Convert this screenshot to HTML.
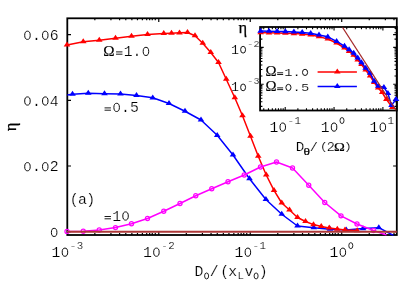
<!DOCTYPE html>
<html><head><meta charset="utf-8"><title>plot</title>
<style>html,body{margin:0;padding:0;background:#fff;overflow:hidden}body{width:407px;height:288px;position:relative;font-family:"Liberation Mono",monospace}</style></head>
<body>
<svg width="407" height="288" viewBox="0 0 407 288" style="position:absolute;left:0;top:0;will-change:transform">
<rect width="407" height="288" fill="#fff"/>
<defs><clipPath id="cm"><rect x="67.3" y="18.3" width="329.5" height="217.5"/></clipPath><clipPath id="ci"><rect x="260.1" y="27.0" width="136.7" height="83.5"/></clipPath></defs>
<path d="M94.84 235.00v-1.90M94.84 18.30v1.90M110.94 235.00v-1.90M110.94 18.30v1.90M119.59 235.00v-1.90M119.59 18.30v1.90M125.79 235.00v-1.90M125.79 18.30v1.90M131.87 235.00v-1.90M131.87 18.30v1.90M137.47 235.00v-1.90M137.47 18.30v1.90M142.38 235.00v-1.90M142.38 18.30v1.90M146.70 235.00v-1.90M146.70 18.30v1.90M149.66 235.00v-1.90M149.66 18.30v1.90M152.27 235.00v-1.90M152.27 18.30v1.90M155.28 235.00v-1.90M155.28 18.30v1.90M158.77 235.00v-3.70M158.77 18.30v3.70M186.31 235.00v-1.90M186.31 18.30v1.90M202.41 235.00v-1.90M202.41 18.30v1.90M211.06 235.00v-1.90M211.06 18.30v1.90M217.26 235.00v-1.90M217.26 18.30v1.90M223.34 235.00v-1.90M223.34 18.30v1.90M228.94 235.00v-1.90M228.94 18.30v1.90M233.85 235.00v-1.90M233.85 18.30v1.90M238.17 235.00v-1.90M238.17 18.30v1.90M241.13 235.00v-1.90M241.13 18.30v1.90M243.74 235.00v-1.90M243.74 18.30v1.90M246.75 235.00v-1.90M246.75 18.30v1.90M250.24 235.00v-3.70M250.24 18.30v3.70M277.78 235.00v-1.90M277.78 18.30v1.90M293.88 235.00v-1.90M293.88 18.30v1.90M302.53 235.00v-1.90M302.53 18.30v1.90M308.73 235.00v-1.90M308.73 18.30v1.90M314.81 235.00v-1.90M314.81 18.30v1.90M320.41 235.00v-1.90M320.41 18.30v1.90M325.32 235.00v-1.90M325.32 18.30v1.90M329.64 235.00v-1.90M329.64 18.30v1.90M332.60 235.00v-1.90M332.60 18.30v1.90M335.21 235.00v-1.90M335.21 18.30v1.90M338.22 235.00v-1.90M338.22 18.30v1.90M341.71 235.00v-3.70M341.71 18.30v3.70M369.25 235.00v-1.90M369.25 18.30v1.90M385.35 235.00v-1.90M385.35 18.30v1.90M394.00 235.00v-1.90M394.00 18.30v1.90M67.30 231.70h3.70M396.80 231.70h-3.70M67.30 166.00h3.70M396.80 166.00h-3.70M67.30 100.30h3.70M396.80 100.30h-3.70M67.30 34.60h3.70M396.80 34.60h-3.70" stroke="#000" stroke-width="1.2" fill="none"/>
<rect x="67.3" y="18.3" width="329.5" height="216.7" fill="none" stroke="#000" stroke-width="1.8"/>
<g clip-path="url(#cm)"><polyline fill="none" stroke="#0000ff" stroke-width="1.5" stroke-linejoin="round" points="67.00,95.00 72.50,94.25 88.25,93.25 104.50,93.75 120.50,94.00 136.50,95.50 152.75,97.80 169.00,103.50 185.00,111.25 201.00,120.00 217.20,135.30 233.00,155.00 249.50,178.75 265.90,199.50 281.75,214.25 297.50,226.00 313.75,227.70 330.00,229.25 346.25,230.00 363.00,228.60 378.80,227.70 393.50,235.50"/></g>
<polygon fill="#0000ff" points="72.50,90.85 69.20,95.85 75.80,95.85"/>
<polygon fill="#0000ff" points="88.25,89.85 84.95,94.85 91.55,94.85"/>
<polygon fill="#0000ff" points="104.50,90.35 101.20,95.35 107.80,95.35"/>
<polygon fill="#0000ff" points="120.50,90.60 117.20,95.60 123.80,95.60"/>
<polygon fill="#0000ff" points="136.50,92.10 133.20,97.10 139.80,97.10"/>
<polygon fill="#0000ff" points="152.75,94.40 149.45,99.40 156.05,99.40"/>
<polygon fill="#0000ff" points="169.00,100.10 165.70,105.10 172.30,105.10"/>
<polygon fill="#0000ff" points="185.00,107.85 181.70,112.85 188.30,112.85"/>
<polygon fill="#0000ff" points="201.00,116.60 197.70,121.60 204.30,121.60"/>
<polygon fill="#0000ff" points="217.20,131.90 213.90,136.90 220.50,136.90"/>
<polygon fill="#0000ff" points="233.00,151.60 229.70,156.60 236.30,156.60"/>
<polygon fill="#0000ff" points="249.50,175.35 246.20,180.35 252.80,180.35"/>
<polygon fill="#0000ff" points="265.90,196.10 262.60,201.10 269.20,201.10"/>
<polygon fill="#0000ff" points="281.75,210.85 278.45,215.85 285.05,215.85"/>
<polygon fill="#0000ff" points="297.50,222.60 294.20,227.60 300.80,227.60"/>
<polygon fill="#0000ff" points="313.75,224.30 310.45,229.30 317.05,229.30"/>
<polygon fill="#0000ff" points="330.00,225.85 326.70,230.85 333.30,230.85"/>
<polygon fill="#0000ff" points="346.25,226.60 342.95,231.60 349.55,231.60"/>
<polygon fill="#0000ff" points="363.00,225.20 359.70,230.20 366.30,230.20"/>
<polygon fill="#0000ff" points="378.80,224.30 375.50,229.30 382.10,229.30"/>
<g clip-path="url(#cm)"><polyline fill="none" stroke="#ff0000" stroke-width="1.5" stroke-linejoin="round" points="67.00,45.00 83.25,41.75 99.25,40.25 115.50,38.25 131.50,36.20 147.50,34.50 163.75,33.50 171.50,33.20 179.50,32.80 187.50,32.50 195.00,35.75 202.75,43.25 210.75,52.50 218.50,62.50 226.25,79.20 234.80,97.70 242.50,115.75 250.50,136.25 258.25,156.25 266.25,175.00 274.00,190.30 281.75,203.00 289.50,210.00 297.50,217.50 305.50,221.50 313.50,224.60 321.25,226.40 329.25,227.90 337.30,229.10 345.00,230.00 357.20,230.60"/></g>
<polygon fill="#ff0000" points="67.00,41.60 63.70,46.60 70.30,46.60"/>
<polygon fill="#ff0000" points="83.25,38.35 79.95,43.35 86.55,43.35"/>
<polygon fill="#ff0000" points="99.25,36.85 95.95,41.85 102.55,41.85"/>
<polygon fill="#ff0000" points="115.50,34.85 112.20,39.85 118.80,39.85"/>
<polygon fill="#ff0000" points="131.50,32.80 128.20,37.80 134.80,37.80"/>
<polygon fill="#ff0000" points="147.50,31.10 144.20,36.10 150.80,36.10"/>
<polygon fill="#ff0000" points="163.75,30.10 160.45,35.10 167.05,35.10"/>
<polygon fill="#ff0000" points="171.50,29.80 168.20,34.80 174.80,34.80"/>
<polygon fill="#ff0000" points="179.50,29.40 176.20,34.40 182.80,34.40"/>
<polygon fill="#ff0000" points="187.50,29.10 184.20,34.10 190.80,34.10"/>
<polygon fill="#ff0000" points="195.00,32.35 191.70,37.35 198.30,37.35"/>
<polygon fill="#ff0000" points="202.75,39.85 199.45,44.85 206.05,44.85"/>
<polygon fill="#ff0000" points="210.75,49.10 207.45,54.10 214.05,54.10"/>
<polygon fill="#ff0000" points="218.50,59.10 215.20,64.10 221.80,64.10"/>
<polygon fill="#ff0000" points="226.25,75.80 222.95,80.80 229.55,80.80"/>
<polygon fill="#ff0000" points="234.80,94.30 231.50,99.30 238.10,99.30"/>
<polygon fill="#ff0000" points="242.50,112.35 239.20,117.35 245.80,117.35"/>
<polygon fill="#ff0000" points="250.50,132.85 247.20,137.85 253.80,137.85"/>
<polygon fill="#ff0000" points="258.25,152.85 254.95,157.85 261.55,157.85"/>
<polygon fill="#ff0000" points="266.25,171.60 262.95,176.60 269.55,176.60"/>
<polygon fill="#ff0000" points="274.00,186.90 270.70,191.90 277.30,191.90"/>
<polygon fill="#ff0000" points="281.75,199.60 278.45,204.60 285.05,204.60"/>
<polygon fill="#ff0000" points="289.50,206.60 286.20,211.60 292.80,211.60"/>
<polygon fill="#ff0000" points="297.50,214.10 294.20,219.10 300.80,219.10"/>
<polygon fill="#ff0000" points="305.50,218.10 302.20,223.10 308.80,223.10"/>
<polygon fill="#ff0000" points="313.50,221.20 310.20,226.20 316.80,226.20"/>
<polygon fill="#ff0000" points="321.25,223.00 317.95,228.00 324.55,228.00"/>
<polygon fill="#ff0000" points="329.25,224.50 325.95,229.50 332.55,229.50"/>
<polygon fill="#ff0000" points="337.30,225.70 334.00,230.70 340.60,230.70"/>
<polygon fill="#ff0000" points="345.00,226.60 341.70,231.60 348.30,231.60"/>
<polygon fill="#ff0000" points="357.20,227.20 353.90,232.20 360.50,232.20"/>
<g clip-path="url(#cm)"><polyline fill="none" stroke="#ff00ff" stroke-width="1.5" stroke-linejoin="round" points="67.00,231.40 83.25,231.20 99.25,230.00 115.50,227.60 131.50,223.70 147.50,218.50 163.75,211.25 180.00,203.50 195.75,195.75 211.75,188.75 228.00,181.75 244.25,175.00 260.50,167.00 276.50,162.00 292.50,168.00 308.75,185.25 324.75,202.50 341.00,215.80 357.00,224.00 373.50,230.50 386.50,235.00"/></g>
<circle cx="67.00" cy="231.40" r="2.05" fill="none" stroke="#ff00ff" stroke-width="1.25"/>
<circle cx="83.25" cy="231.20" r="2.05" fill="none" stroke="#ff00ff" stroke-width="1.25"/>
<circle cx="99.25" cy="230.00" r="2.05" fill="none" stroke="#ff00ff" stroke-width="1.25"/>
<circle cx="115.50" cy="227.60" r="2.05" fill="none" stroke="#ff00ff" stroke-width="1.25"/>
<circle cx="131.50" cy="223.70" r="2.05" fill="none" stroke="#ff00ff" stroke-width="1.25"/>
<circle cx="147.50" cy="218.50" r="2.05" fill="none" stroke="#ff00ff" stroke-width="1.25"/>
<circle cx="163.75" cy="211.25" r="2.05" fill="none" stroke="#ff00ff" stroke-width="1.25"/>
<circle cx="180.00" cy="203.50" r="2.05" fill="none" stroke="#ff00ff" stroke-width="1.25"/>
<circle cx="195.75" cy="195.75" r="2.05" fill="none" stroke="#ff00ff" stroke-width="1.25"/>
<circle cx="211.75" cy="188.75" r="2.05" fill="none" stroke="#ff00ff" stroke-width="1.25"/>
<circle cx="228.00" cy="181.75" r="2.05" fill="none" stroke="#ff00ff" stroke-width="1.25"/>
<circle cx="244.25" cy="175.00" r="2.05" fill="none" stroke="#ff00ff" stroke-width="1.25"/>
<circle cx="260.50" cy="167.00" r="2.05" fill="none" stroke="#ff00ff" stroke-width="1.25"/>
<circle cx="276.50" cy="162.00" r="2.05" fill="none" stroke="#ff00ff" stroke-width="1.25"/>
<circle cx="292.50" cy="168.00" r="2.05" fill="none" stroke="#ff00ff" stroke-width="1.25"/>
<circle cx="308.75" cy="185.25" r="2.05" fill="none" stroke="#ff00ff" stroke-width="1.25"/>
<circle cx="324.75" cy="202.50" r="2.05" fill="none" stroke="#ff00ff" stroke-width="1.25"/>
<circle cx="341.00" cy="215.80" r="2.05" fill="none" stroke="#ff00ff" stroke-width="1.25"/>
<circle cx="357.00" cy="224.00" r="2.05" fill="none" stroke="#ff00ff" stroke-width="1.25"/>
<circle cx="373.50" cy="230.50" r="2.05" fill="none" stroke="#ff00ff" stroke-width="1.25"/>
<line x1="67.3" y1="231.79999999999998" x2="396.8" y2="231.79999999999998" stroke="#ad3838" stroke-width="1.9"/>
<path d="M263.74 110.50v-2.30M263.74 27.00v2.30M268.47 110.50v-2.30M268.47 27.00v2.30M272.34 110.50v-2.30M272.34 27.00v2.30M275.61 110.50v-2.30M275.61 27.00v2.30M278.44 110.50v-2.30M278.44 27.00v2.30M280.94 110.50v-2.30M280.94 27.00v2.30M283.18 110.50v-2.30M283.18 27.00v2.30M285.20 110.50v-3.60M285.20 27.00v3.60M297.88 110.50v-2.30M297.88 27.00v2.30M306.49 110.50v-2.30M306.49 27.00v2.30M312.59 110.50v-2.30M312.59 27.00v2.30M317.32 110.50v-2.30M317.32 27.00v2.30M321.19 110.50v-2.30M321.19 27.00v2.30M324.46 110.50v-2.30M324.46 27.00v2.30M327.29 110.50v-2.30M327.29 27.00v2.30M329.79 110.50v-2.30M329.79 27.00v2.30M332.03 110.50v-2.30M332.03 27.00v2.30M334.05 110.50v-3.60M334.05 27.00v3.60M346.73 110.50v-2.30M346.73 27.00v2.30M355.34 110.50v-2.30M355.34 27.00v2.30M361.44 110.50v-2.30M361.44 27.00v2.30M366.17 110.50v-2.30M366.17 27.00v2.30M370.04 110.50v-2.30M370.04 27.00v2.30M373.31 110.50v-2.30M373.31 27.00v2.30M376.14 110.50v-2.30M376.14 27.00v2.30M378.64 110.50v-2.30M378.64 27.00v2.30M380.88 110.50v-2.30M380.88 27.00v2.30M382.90 110.50v-3.60M382.90 27.00v3.60M395.58 110.50v-2.30M395.58 27.00v2.30M260.10 106.39h2.30M396.80 106.39h-2.30M260.10 101.78h2.30M396.80 101.78h-2.30M260.10 98.21h2.30M396.80 98.21h-2.30M260.10 95.29h2.30M396.80 95.29h-2.30M260.10 92.83h2.30M396.80 92.83h-2.30M260.10 90.69h2.30M396.80 90.69h-2.30M260.10 88.80h2.30M396.80 88.80h-2.30M260.10 87.12h2.30M396.80 87.12h-2.30M260.10 85.59h2.30M396.80 85.59h-2.30M260.10 84.20h3.60M396.80 84.20h-3.60M260.10 76.02h2.30M396.80 76.02h-2.30M260.10 69.54h2.30M396.80 69.54h-2.30M260.10 64.93h2.30M396.80 64.93h-2.30M260.10 61.36h2.30M396.80 61.36h-2.30M260.10 58.44h2.30M396.80 58.44h-2.30M260.10 55.98h2.30M396.80 55.98h-2.30M260.10 53.84h2.30M396.80 53.84h-2.30M260.10 51.95h2.30M396.80 51.95h-2.30M260.10 50.27h2.30M396.80 50.27h-2.30M260.10 48.74h2.30M396.80 48.74h-2.30M260.10 47.35h3.60M396.80 47.35h-3.60M260.10 39.17h2.30M396.80 39.17h-2.30M260.10 32.69h2.30M396.80 32.69h-2.30M260.10 28.08h2.30M396.80 28.08h-2.30" stroke="#000" stroke-width="1.1" fill="none"/>
<rect x="260.1" y="27.0" width="136.7" height="83.5" fill="none" stroke="#000" stroke-width="1.8"/>
<g clip-path="url(#ci)"><polyline fill="none" stroke="#ff0000" stroke-width="1.5" stroke-linejoin="round" points="260.65,32.70 269.00,32.80 277.10,33.00 285.40,33.20 293.90,33.60 302.20,34.10 310.70,35.00 319.00,36.60 327.80,39.00 336.60,43.00 344.50,48.00 349.10,51.50 353.70,55.20 357.70,59.80 361.50,64.50 365.70,70.00 370.10,76.00 374.20,82.50 378.20,88.00 382.20,92.50 386.30,99.30 392.30,107.40"/></g>
<polygon fill="#ff0000" points="260.65,29.30 257.35,34.30 263.95,34.30"/>
<polygon fill="#ff0000" points="269.00,29.40 265.70,34.40 272.30,34.40"/>
<polygon fill="#ff0000" points="277.10,29.60 273.80,34.60 280.40,34.60"/>
<polygon fill="#ff0000" points="285.40,29.80 282.10,34.80 288.70,34.80"/>
<polygon fill="#ff0000" points="293.90,30.20 290.60,35.20 297.20,35.20"/>
<polygon fill="#ff0000" points="302.20,30.70 298.90,35.70 305.50,35.70"/>
<polygon fill="#ff0000" points="310.70,31.60 307.40,36.60 314.00,36.60"/>
<polygon fill="#ff0000" points="319.00,33.20 315.70,38.20 322.30,38.20"/>
<polygon fill="#ff0000" points="327.80,35.60 324.50,40.60 331.10,40.60"/>
<polygon fill="#ff0000" points="336.60,39.60 333.30,44.60 339.90,44.60"/>
<polygon fill="#ff0000" points="344.50,44.60 341.20,49.60 347.80,49.60"/>
<polygon fill="#ff0000" points="349.10,48.10 345.80,53.10 352.40,53.10"/>
<polygon fill="#ff0000" points="353.70,51.80 350.40,56.80 357.00,56.80"/>
<polygon fill="#ff0000" points="357.70,56.40 354.40,61.40 361.00,61.40"/>
<polygon fill="#ff0000" points="361.50,61.10 358.20,66.10 364.80,66.10"/>
<polygon fill="#ff0000" points="365.70,66.60 362.40,71.60 369.00,71.60"/>
<polygon fill="#ff0000" points="370.10,72.60 366.80,77.60 373.40,77.60"/>
<polygon fill="#ff0000" points="374.20,79.10 370.90,84.10 377.50,84.10"/>
<polygon fill="#ff0000" points="378.20,84.60 374.90,89.60 381.50,89.60"/>
<polygon fill="#ff0000" points="382.20,89.10 378.90,94.10 385.50,94.10"/>
<polygon fill="#ff0000" points="386.30,95.90 383.00,100.90 389.60,100.90"/>
<polygon fill="#ff0000" points="392.30,104.00 389.00,109.00 395.60,109.00"/>
<g clip-path="url(#ci)"><polyline fill="none" stroke="#0000ff" stroke-width="1.5" stroke-linejoin="round" points="260.65,31.10 269.00,31.20 277.10,31.40 285.40,31.60 293.90,32.00 302.20,32.50 310.70,33.30 319.00,35.00 327.80,36.80 336.60,41.40 344.50,46.20 349.10,49.70 353.70,53.20 357.70,58.00 361.50,62.60 365.70,68.10 370.10,73.10 374.20,81.20 378.20,86.20 383.90,87.30 387.90,93.30 391.50,105.40 396.00,99.30"/></g>
<polygon fill="#0000ff" points="260.65,27.70 257.35,32.70 263.95,32.70"/>
<polygon fill="#0000ff" points="269.00,27.80 265.70,32.80 272.30,32.80"/>
<polygon fill="#0000ff" points="277.10,28.00 273.80,33.00 280.40,33.00"/>
<polygon fill="#0000ff" points="285.40,28.20 282.10,33.20 288.70,33.20"/>
<polygon fill="#0000ff" points="293.90,28.60 290.60,33.60 297.20,33.60"/>
<polygon fill="#0000ff" points="302.20,29.10 298.90,34.10 305.50,34.10"/>
<polygon fill="#0000ff" points="310.70,29.90 307.40,34.90 314.00,34.90"/>
<polygon fill="#0000ff" points="319.00,31.60 315.70,36.60 322.30,36.60"/>
<polygon fill="#0000ff" points="327.80,33.40 324.50,38.40 331.10,38.40"/>
<polygon fill="#0000ff" points="336.60,38.00 333.30,43.00 339.90,43.00"/>
<polygon fill="#0000ff" points="344.50,42.80 341.20,47.80 347.80,47.80"/>
<polygon fill="#0000ff" points="349.10,46.30 345.80,51.30 352.40,51.30"/>
<polygon fill="#0000ff" points="353.70,49.80 350.40,54.80 357.00,54.80"/>
<polygon fill="#0000ff" points="357.70,54.60 354.40,59.60 361.00,59.60"/>
<polygon fill="#0000ff" points="361.50,59.20 358.20,64.20 364.80,64.20"/>
<polygon fill="#0000ff" points="365.70,64.70 362.40,69.70 369.00,69.70"/>
<polygon fill="#0000ff" points="370.10,69.70 366.80,74.70 373.40,74.70"/>
<polygon fill="#0000ff" points="374.20,77.80 370.90,82.80 377.50,82.80"/>
<polygon fill="#0000ff" points="378.20,82.80 374.90,87.80 381.50,87.80"/>
<polygon fill="#0000ff" points="383.90,83.90 380.60,88.90 387.20,88.90"/>
<polygon fill="#0000ff" points="387.90,89.90 384.60,94.90 391.20,94.90"/>
<polygon fill="#0000ff" points="391.50,102.00 388.20,107.00 394.80,107.00"/>
<polygon fill="#0000ff" points="396.00,95.90 392.70,100.90 399.30,100.90"/>
<g clip-path="url(#ci)"><line x1="342.6" y1="27.5" x2="396.1" y2="110.5" stroke="#a52a2a" stroke-width="1.3"/></g>
<line x1="317.6" y1="72.0" x2="356.9" y2="72.0" stroke="#ff0000" stroke-width="1.5"/><polygon fill="#ff0000" points="337.30,68.60 334.00,73.60 340.60,73.60"/>
<line x1="317.6" y1="86.4" x2="356.9" y2="86.4" stroke="#0000ff" stroke-width="1.5"/><polygon fill="#0000ff" points="337.30,83.00 334.00,88.00 340.60,88.00"/>
<g fill="#000" stroke="#fff" stroke-width="0.18">
<ellipse cx="27.45" cy="35.30" rx="2.75" ry="4.10" fill="none" stroke="#000" stroke-width="0.95"/><text x="36.35" y="39.90" text-anchor="middle" font-family="Liberation Mono, monospace"  font-size="14.8">.</text><ellipse cx="45.25" cy="35.30" rx="2.75" ry="4.10" fill="none" stroke="#000" stroke-width="0.95"/><text x="54.15" y="39.90" text-anchor="middle" font-family="Liberation Mono, monospace"  font-size="14.8">6</text>
<ellipse cx="27.45" cy="101.00" rx="2.75" ry="4.10" fill="none" stroke="#000" stroke-width="0.95"/><text x="36.35" y="105.60" text-anchor="middle" font-family="Liberation Mono, monospace"  font-size="14.8">.</text><ellipse cx="45.25" cy="101.00" rx="2.75" ry="4.10" fill="none" stroke="#000" stroke-width="0.95"/><text x="54.15" y="105.60" text-anchor="middle" font-family="Liberation Mono, monospace"  font-size="14.8">4</text>
<ellipse cx="27.45" cy="166.70" rx="2.75" ry="4.10" fill="none" stroke="#000" stroke-width="0.95"/><text x="36.35" y="171.30" text-anchor="middle" font-family="Liberation Mono, monospace"  font-size="14.8">.</text><ellipse cx="45.25" cy="166.70" rx="2.75" ry="4.10" fill="none" stroke="#000" stroke-width="0.95"/><text x="54.15" y="171.30" text-anchor="middle" font-family="Liberation Mono, monospace"  font-size="14.8">2</text>
<ellipse cx="54.15" cy="232.40" rx="2.75" ry="4.10" fill="none" stroke="#000" stroke-width="0.95"/>
<text x="56.05" y="256.80" text-anchor="middle" font-family="Liberation Mono, monospace"  font-size="14.8">1</text><ellipse cx="64.95" cy="252.20" rx="2.75" ry="4.10" fill="none" stroke="#000" stroke-width="0.95"/><text x="72.90" y="249.00" text-anchor="middle" font-family="Liberation Mono, monospace"  font-size="10.8">-</text><text x="79.90" y="249.00" text-anchor="middle" font-family="Liberation Mono, monospace"  font-size="10.8">3</text>
<text x="147.52" y="256.80" text-anchor="middle" font-family="Liberation Mono, monospace"  font-size="14.8">1</text><ellipse cx="156.42" cy="252.20" rx="2.75" ry="4.10" fill="none" stroke="#000" stroke-width="0.95"/><text x="164.37" y="249.00" text-anchor="middle" font-family="Liberation Mono, monospace"  font-size="10.8">-</text><text x="171.37" y="249.00" text-anchor="middle" font-family="Liberation Mono, monospace"  font-size="10.8">2</text>
<text x="238.99" y="256.80" text-anchor="middle" font-family="Liberation Mono, monospace"  font-size="14.8">1</text><ellipse cx="247.89" cy="252.20" rx="2.75" ry="4.10" fill="none" stroke="#000" stroke-width="0.95"/><text x="255.84" y="249.00" text-anchor="middle" font-family="Liberation Mono, monospace"  font-size="10.8">-</text><text x="262.84" y="249.00" text-anchor="middle" font-family="Liberation Mono, monospace"  font-size="10.8">1</text>
<text x="333.96" y="256.80" text-anchor="middle" font-family="Liberation Mono, monospace"  font-size="14.8">1</text><ellipse cx="342.86" cy="252.20" rx="2.75" ry="4.10" fill="none" stroke="#000" stroke-width="0.95"/><ellipse cx="350.81" cy="245.64" rx="2.01" ry="2.99" fill="none" stroke="#000" stroke-width="0.85"/>
<text x="198.95" y="276.00" text-anchor="middle" font-family="Liberation Mono, monospace"  font-size="14.8">D</text><ellipse cx="206.60" cy="275.94" rx="2.01" ry="2.99" fill="none" stroke="#000" stroke-width="0.85"/><text x="214.20" y="276.00" text-anchor="middle" font-family="Liberation Mono, monospace"  font-size="14.8">/</text><text x="224.60" y="276.00" text-anchor="middle" font-family="Liberation Mono, monospace"  font-size="14.8">(</text><text x="232.70" y="276.00" text-anchor="middle" font-family="Liberation Mono, monospace"  font-size="14.8">x</text><text x="240.80" y="279.30" text-anchor="middle" font-family="Liberation Mono, monospace"  font-size="10.8">L</text><text x="249.00" y="276.00" text-anchor="middle" font-family="Liberation Mono, monospace"  font-size="14.8">v</text><ellipse cx="256.10" cy="275.94" rx="2.01" ry="2.99" fill="none" stroke="#000" stroke-width="0.85"/><text x="263.25" y="276.00" text-anchor="middle" font-family="Liberation Mono, monospace"  font-size="14.8">)</text>
<text transform="translate(16,127) rotate(-90)" text-anchor="middle" font-family="Liberation Serif, serif" stroke="#000" stroke-width="0.25" font-size="16.5">η</text>
<text x="108.90" y="56.00" text-anchor="middle" font-family="Liberation Serif, serif" stroke="#000" stroke-width="0.2" font-size="15.2">Ω</text><path d="M116.05 51.90h6.40M116.05 54.20h6.40" stroke="#000" stroke-width="0.9" fill="none"/><text x="128.15" y="56.00" text-anchor="middle" font-family="Liberation Mono, monospace"  font-size="14.8">1</text><text x="137.05" y="56.00" text-anchor="middle" font-family="Liberation Mono, monospace"  font-size="14.8">.</text><ellipse cx="145.95" cy="51.40" rx="2.75" ry="4.10" fill="none" stroke="#000" stroke-width="0.95"/>
<path d="M104.55 107.90h6.40M104.55 110.20h6.40" stroke="#000" stroke-width="0.9" fill="none"/><ellipse cx="116.65" cy="107.40" rx="2.75" ry="4.10" fill="none" stroke="#000" stroke-width="0.95"/><text x="125.55" y="112.00" text-anchor="middle" font-family="Liberation Mono, monospace"  font-size="14.8">.</text><text x="134.45" y="112.00" text-anchor="middle" font-family="Liberation Mono, monospace"  font-size="14.8">5</text>
<path d="M104.55 216.50h6.40M104.55 218.80h6.40" stroke="#000" stroke-width="0.9" fill="none"/><text x="116.65" y="220.60" text-anchor="middle" font-family="Liberation Mono, monospace"  font-size="14.8">1</text><ellipse cx="125.55" cy="216.00" rx="2.75" ry="4.10" fill="none" stroke="#000" stroke-width="0.95"/>
<text x="74.20" y="203.90" text-anchor="middle" font-family="Liberation Mono, monospace"  font-size="14.8">(</text><text x="82.40" y="203.90" text-anchor="middle" font-family="Liberation Mono, monospace"  font-size="14.8">a</text><text x="90.65" y="203.90" text-anchor="middle" font-family="Liberation Mono, monospace"  font-size="14.8">)</text>
<text x="242.8" y="32.5" text-anchor="middle" font-family="Liberation Serif, serif" stroke="#000" stroke-width="0.25" font-size="16.5">η</text>
<text transform="translate(235.10,53.50) scale(1,0.920)" text-anchor="middle" font-family="Liberation Mono, monospace"  font-size="13.3">1</text><ellipse cx="243.10" cy="49.70" rx="2.47" ry="3.39" fill="none" stroke="#000" stroke-width="0.91"/><text transform="translate(250.20,46.50) scale(1,0.920)" text-anchor="middle" font-family="Liberation Mono, monospace"  font-size="10.0">-</text><text transform="translate(256.40,46.50) scale(1,0.920)" text-anchor="middle" font-family="Liberation Mono, monospace"  font-size="10.0">2</text>
<text transform="translate(235.10,91.20) scale(1,0.920)" text-anchor="middle" font-family="Liberation Mono, monospace"  font-size="13.3">1</text><ellipse cx="243.10" cy="87.40" rx="2.47" ry="3.39" fill="none" stroke="#000" stroke-width="0.91"/><text transform="translate(250.20,84.20) scale(1,0.920)" text-anchor="middle" font-family="Liberation Mono, monospace"  font-size="10.0">-</text><text transform="translate(256.40,84.20) scale(1,0.920)" text-anchor="middle" font-family="Liberation Mono, monospace"  font-size="10.0">3</text>
<text x="273.85" y="131.70" text-anchor="middle" font-family="Liberation Mono, monospace"  font-size="14.8">1</text><ellipse cx="282.75" cy="127.10" rx="2.75" ry="4.10" fill="none" stroke="#000" stroke-width="0.95"/><text x="290.70" y="123.90" text-anchor="middle" font-family="Liberation Mono, monospace"  font-size="10.8">-</text><text x="297.70" y="123.90" text-anchor="middle" font-family="Liberation Mono, monospace"  font-size="10.8">1</text>
<text x="325.15" y="131.70" text-anchor="middle" font-family="Liberation Mono, monospace"  font-size="14.8">1</text><ellipse cx="334.05" cy="127.10" rx="2.75" ry="4.10" fill="none" stroke="#000" stroke-width="0.95"/><ellipse cx="342.00" cy="120.54" rx="2.01" ry="2.99" fill="none" stroke="#000" stroke-width="0.85"/>
<text x="373.95" y="131.70" text-anchor="middle" font-family="Liberation Mono, monospace"  font-size="14.8">1</text><ellipse cx="382.85" cy="127.10" rx="2.75" ry="4.10" fill="none" stroke="#000" stroke-width="0.95"/><text x="390.80" y="123.90" text-anchor="middle" font-family="Liberation Mono, monospace"  font-size="10.8">1</text>
<text x="271.00" y="75.90" text-anchor="middle" font-family="Liberation Serif, serif" stroke="#000" stroke-width="0.2" font-size="14.8">Ω</text><path d="M277.17 72.77h5.97M277.17 74.52h5.97" stroke="#000" stroke-width="0.9" fill="none"/><text transform="translate(288.45,75.90) scale(1,0.820)" text-anchor="middle" font-family="Liberation Mono, monospace"  font-size="13.8">1</text><text transform="translate(296.75,75.90) scale(1,0.820)" text-anchor="middle" font-family="Liberation Mono, monospace"  font-size="13.8">.</text><ellipse cx="305.05" cy="72.38" rx="2.56" ry="3.13" fill="none" stroke="#000" stroke-width="0.92"/>
<text x="271.00" y="91.00" text-anchor="middle" font-family="Liberation Serif, serif" stroke="#000" stroke-width="0.2" font-size="14.8">Ω</text><path d="M277.17 87.87h5.97M277.17 89.62h5.97" stroke="#000" stroke-width="0.9" fill="none"/><ellipse cx="288.45" cy="87.48" rx="2.56" ry="3.13" fill="none" stroke="#000" stroke-width="0.92"/><text transform="translate(296.75,91.00) scale(1,0.820)" text-anchor="middle" font-family="Liberation Mono, monospace"  font-size="13.8">.</text><text transform="translate(305.05,91.00) scale(1,0.820)" text-anchor="middle" font-family="Liberation Mono, monospace"  font-size="13.8">5</text>
<text transform="translate(300.00,150.60) scale(1,0.960)" text-anchor="middle" font-family="Liberation Mono, monospace"  font-size="14.2">D</text><text transform="translate(306.70,154.70) scale(1,0.820)" text-anchor="middle" font-family="Liberation Serif, serif" stroke="#000" stroke-width="0.25" font-size="13.5">θ</text><text transform="translate(313.80,150.60) scale(1,0.900)" text-anchor="middle" font-family="Liberation Mono, monospace"  font-size="13.6">/</text><text transform="translate(323.80,150.30) scale(1,0.850)" text-anchor="middle" font-family="Liberation Mono, monospace"  font-size="13.6">(</text><text transform="translate(330.70,150.60) scale(1,0.900)" text-anchor="middle" font-family="Liberation Mono, monospace"  font-size="13.6">2</text><text transform="translate(339.40,150.60) scale(1,0.920)" text-anchor="middle" font-family="Liberation Serif, serif" stroke="#000" stroke-width="0.2" font-size="14.6">Ω</text><text transform="translate(347.90,150.30) scale(1,0.850)" text-anchor="middle" font-family="Liberation Mono, monospace"  font-size="13.6">)</text>
</g>
</svg>
</body></html>
